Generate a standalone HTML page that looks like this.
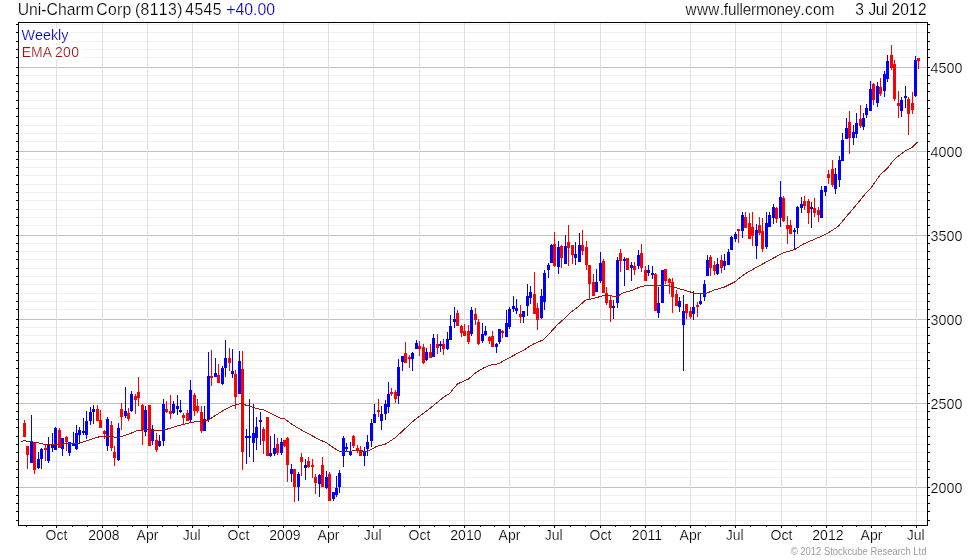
<!DOCTYPE html>
<html><head><meta charset="utf-8"><title>Uni-Charm Corp (8113) Weekly</title>
<style>html,body{margin:0;padding:0;background:#fff}body{width:980px;height:560px;overflow:hidden}svg{display:block}text{font-family:"Liberation Sans",sans-serif;stroke:#fff;stroke-width:.2px}</style></head><body>
<svg width="980" height="560" viewBox="0 0 980 560" style="will-change:transform">
<rect width="980" height="560" fill="#fff"/>
<g shape-rendering="crispEdges">
<g fill="#f0f0f0">
<rect x="19" y="520" width="908" height="1"/>
<rect x="19" y="511" width="908" height="1"/>
<rect x="19" y="503" width="908" height="1"/>
<rect x="19" y="495" width="908" height="1"/>
<rect x="19" y="477" width="908" height="1"/>
<rect x="19" y="469" width="908" height="1"/>
<rect x="19" y="461" width="908" height="1"/>
<rect x="19" y="452" width="908" height="1"/>
<rect x="19" y="444" width="908" height="1"/>
<rect x="19" y="436" width="908" height="1"/>
<rect x="19" y="427" width="908" height="1"/>
<rect x="19" y="419" width="908" height="1"/>
<rect x="19" y="411" width="908" height="1"/>
<rect x="19" y="393" width="908" height="1"/>
<rect x="19" y="385" width="908" height="1"/>
<rect x="19" y="377" width="908" height="1"/>
<rect x="19" y="368" width="908" height="1"/>
<rect x="19" y="360" width="908" height="1"/>
<rect x="19" y="352" width="908" height="1"/>
<rect x="19" y="343" width="908" height="1"/>
<rect x="19" y="335" width="908" height="1"/>
<rect x="19" y="327" width="908" height="1"/>
<rect x="19" y="309" width="908" height="1"/>
<rect x="19" y="301" width="908" height="1"/>
<rect x="19" y="293" width="908" height="1"/>
<rect x="19" y="284" width="908" height="1"/>
<rect x="19" y="276" width="908" height="1"/>
<rect x="19" y="268" width="908" height="1"/>
<rect x="19" y="259" width="908" height="1"/>
<rect x="19" y="251" width="908" height="1"/>
<rect x="19" y="243" width="908" height="1"/>
<rect x="19" y="225" width="908" height="1"/>
<rect x="19" y="217" width="908" height="1"/>
<rect x="19" y="209" width="908" height="1"/>
<rect x="19" y="200" width="908" height="1"/>
<rect x="19" y="192" width="908" height="1"/>
<rect x="19" y="184" width="908" height="1"/>
<rect x="19" y="175" width="908" height="1"/>
<rect x="19" y="167" width="908" height="1"/>
<rect x="19" y="159" width="908" height="1"/>
<rect x="19" y="141" width="908" height="1"/>
<rect x="19" y="133" width="908" height="1"/>
<rect x="19" y="125" width="908" height="1"/>
<rect x="19" y="116" width="908" height="1"/>
<rect x="19" y="108" width="908" height="1"/>
<rect x="19" y="100" width="908" height="1"/>
<rect x="19" y="91" width="908" height="1"/>
<rect x="19" y="83" width="908" height="1"/>
<rect x="19" y="75" width="908" height="1"/>
<rect x="19" y="57" width="908" height="1"/>
<rect x="19" y="49" width="908" height="1"/>
<rect x="19" y="41" width="908" height="1"/>
<rect x="19" y="32" width="908" height="1"/>
<rect x="19" y="24" width="908" height="1"/>
</g>
<g fill="#c0c0c0">
<rect x="19" y="67" width="908" height="1"/>
<rect x="19" y="151" width="908" height="1"/>
<rect x="19" y="235" width="908" height="1"/>
<rect x="19" y="319" width="908" height="1"/>
<rect x="19" y="403" width="908" height="1"/>
<rect x="19" y="487" width="908" height="1"/>
</g>
<g fill="#e0e0e0">
<rect x="56" y="23" width="1" height="502"/>
<rect x="102" y="23" width="1" height="502"/>
<rect x="147" y="23" width="1" height="502"/>
<rect x="192" y="23" width="1" height="502"/>
<rect x="238" y="23" width="1" height="502"/>
<rect x="283" y="23" width="1" height="502"/>
<rect x="328" y="23" width="1" height="502"/>
<rect x="373" y="23" width="1" height="502"/>
<rect x="419" y="23" width="1" height="502"/>
<rect x="464" y="23" width="1" height="502"/>
<rect x="509" y="23" width="1" height="502"/>
<rect x="554" y="23" width="1" height="502"/>
<rect x="600" y="23" width="1" height="502"/>
<rect x="645" y="23" width="1" height="502"/>
<rect x="690" y="23" width="1" height="502"/>
<rect x="735" y="23" width="1" height="502"/>
<rect x="781" y="23" width="1" height="502"/>
<rect x="826" y="23" width="1" height="502"/>
<rect x="871" y="23" width="1" height="502"/>
<rect x="916" y="23" width="1" height="502"/>
</g>
</g>
<g shape-rendering="crispEdges">
<g fill="#ff0000"><rect x="24" y="420" width="1" height="17"/><rect x="23" y="423" width="3" height="14"/></g>
<g fill="#ff0000"><rect x="27" y="446" width="1" height="23"/><rect x="26" y="446" width="3" height="9"/></g>
<g fill="#0000ff"><rect x="31" y="415" width="1" height="48"/><rect x="30" y="441" width="3" height="22"/></g>
<g fill="#ff0000"><rect x="34" y="442" width="1" height="32"/><rect x="33" y="442" width="3" height="28"/></g>
<g fill="#0000ff"><rect x="38" y="452" width="1" height="17"/><rect x="37" y="459" width="3" height="9"/></g>
<g fill="#0000ff"><rect x="41" y="448" width="1" height="21"/><rect x="40" y="449" width="3" height="10"/></g>
<g fill="#ff0000"><rect x="45" y="445" width="1" height="16"/><rect x="44" y="448" width="3" height="2"/></g>
<g fill="#0000ff"><rect x="48" y="437" width="1" height="26"/><rect x="47" y="445" width="3" height="16"/></g>
<g fill="#0000ff"><rect x="52" y="433" width="1" height="19"/><rect x="51" y="444" width="3" height="4"/></g>
<g fill="#0000ff"><rect x="55" y="427" width="1" height="23"/><rect x="54" y="428" width="3" height="22"/></g>
<g fill="#ff0000"><rect x="59" y="428" width="1" height="20"/><rect x="58" y="430" width="3" height="18"/></g>
<g fill="#0000ff"><rect x="62" y="438" width="1" height="18"/><rect x="61" y="438" width="3" height="11"/></g>
<g fill="#ff0000"><rect x="66" y="436" width="1" height="15"/><rect x="65" y="437" width="3" height="5"/></g>
<g fill="#0000ff"><rect x="69" y="442" width="1" height="14"/><rect x="68" y="442" width="3" height="11"/></g>
<g fill="#0000ff"><rect x="73" y="432" width="1" height="14"/><rect x="72" y="444" width="3" height="2"/></g>
<g fill="#0000ff"><rect x="76" y="425" width="1" height="25"/><rect x="75" y="433" width="3" height="16"/></g>
<g fill="#0000ff"><rect x="79" y="427" width="1" height="17"/><rect x="78" y="430" width="3" height="5"/></g>
<g fill="#0000ff"><rect x="83" y="418" width="1" height="17"/><rect x="82" y="431" width="3" height="2"/></g>
<g fill="#0000ff"><rect x="86" y="411" width="1" height="28"/><rect x="85" y="421" width="3" height="14"/></g>
<g fill="#0000ff"><rect x="90" y="407" width="1" height="18"/><rect x="89" y="412" width="3" height="9"/></g>
<g fill="#0000ff"><rect x="93" y="405" width="1" height="19"/><rect x="92" y="409" width="3" height="3"/></g>
<g fill="#ff0000"><rect x="97" y="405" width="1" height="16"/><rect x="96" y="409" width="3" height="12"/></g>
<g fill="#ff0000"><rect x="100" y="410" width="1" height="18"/><rect x="99" y="420" width="3" height="8"/></g>
<g fill="#ff0000"><rect x="104" y="430" width="1" height="9"/><rect x="103" y="431" width="3" height="3"/></g>
<g fill="#0000ff"><rect x="107" y="417" width="1" height="34"/><rect x="106" y="419" width="3" height="27"/></g>
<g fill="#ff0000"><rect x="111" y="421" width="1" height="30"/><rect x="110" y="425" width="3" height="23"/></g>
<g fill="#ff0000"><rect x="114" y="446" width="1" height="20"/><rect x="113" y="452" width="3" height="6"/></g>
<g fill="#0000ff"><rect x="118" y="423" width="1" height="38"/><rect x="117" y="428" width="3" height="32"/></g>
<g fill="#ff0000"><rect x="121" y="403" width="1" height="27"/><rect x="120" y="409" width="3" height="8"/></g>
<g fill="#0000ff"><rect x="125" y="387" width="1" height="31"/><rect x="124" y="411" width="3" height="5"/></g>
<g fill="#ff0000"><rect x="128" y="408" width="1" height="13"/><rect x="127" y="413" width="3" height="6"/></g>
<g fill="#0000ff"><rect x="131" y="391" width="1" height="21"/><rect x="130" y="394" width="3" height="17"/></g>
<g fill="#ff0000"><rect x="135" y="394" width="1" height="20"/><rect x="134" y="396" width="3" height="4"/></g>
<g fill="#ff0000"><rect x="138" y="377" width="1" height="29"/><rect x="137" y="392" width="3" height="6"/></g>
<g fill="#ff0000"><rect x="142" y="404" width="1" height="41"/><rect x="141" y="405" width="3" height="25"/></g>
<g fill="#0000ff"><rect x="145" y="406" width="1" height="30"/><rect x="144" y="410" width="3" height="22"/></g>
<g fill="#ff0000"><rect x="149" y="405" width="1" height="41"/><rect x="148" y="405" width="3" height="41"/></g>
<g fill="#0000ff"><rect x="152" y="425" width="1" height="20"/><rect x="151" y="429" width="3" height="12"/></g>
<g fill="#ff0000"><rect x="156" y="433" width="1" height="19"/><rect x="155" y="440" width="3" height="10"/></g>
<g fill="#0000ff"><rect x="159" y="435" width="1" height="12"/><rect x="158" y="441" width="3" height="5"/></g>
<g fill="#0000ff"><rect x="163" y="399" width="1" height="47"/><rect x="162" y="404" width="3" height="37"/></g>
<g fill="#ff0000"><rect x="166" y="401" width="1" height="12"/><rect x="165" y="409" width="3" height="3"/></g>
<g fill="#ff0000"><rect x="170" y="395" width="1" height="24"/><rect x="169" y="411" width="3" height="3"/></g>
<g fill="#0000ff"><rect x="173" y="401" width="1" height="13"/><rect x="172" y="404" width="3" height="9"/></g>
<g fill="#0000ff"><rect x="177" y="395" width="1" height="20"/><rect x="176" y="406" width="3" height="3"/></g>
<g fill="#0000ff"><rect x="180" y="400" width="1" height="13"/><rect x="179" y="410" width="3" height="2"/></g>
<g fill="#ff0000"><rect x="183" y="413" width="1" height="12"/><rect x="182" y="415" width="3" height="3"/></g>
<g fill="#ff0000"><rect x="187" y="410" width="1" height="11"/><rect x="186" y="413" width="3" height="8"/></g>
<g fill="#0000ff"><rect x="190" y="380" width="1" height="42"/><rect x="189" y="390" width="3" height="30"/></g>
<g fill="#ff0000"><rect x="194" y="393" width="1" height="23"/><rect x="193" y="395" width="3" height="16"/></g>
<g fill="#ff0000"><rect x="197" y="399" width="1" height="14"/><rect x="196" y="406" width="3" height="5"/></g>
<g fill="#ff0000"><rect x="201" y="406" width="1" height="27"/><rect x="200" y="412" width="3" height="19"/></g>
<g fill="#0000ff"><rect x="204" y="406" width="1" height="25"/><rect x="203" y="419" width="3" height="12"/></g>
<g fill="#0000ff"><rect x="208" y="352" width="1" height="70"/><rect x="207" y="376" width="3" height="44"/></g>
<g fill="#ff0000"><rect x="211" y="350" width="1" height="36"/><rect x="210" y="376" width="3" height="2"/></g>
<g fill="#0000ff"><rect x="215" y="358" width="1" height="19"/><rect x="214" y="373" width="3" height="4"/></g>
<g fill="#ff0000"><rect x="218" y="364" width="1" height="19"/><rect x="217" y="375" width="3" height="8"/></g>
<g fill="#0000ff"><rect x="222" y="366" width="1" height="19"/><rect x="221" y="368" width="3" height="16"/></g>
<g fill="#0000ff"><rect x="225" y="340" width="1" height="37"/><rect x="224" y="358" width="3" height="10"/></g>
<g fill="#ff0000"><rect x="229" y="348" width="1" height="23"/><rect x="228" y="358" width="3" height="5"/></g>
<g fill="#0000ff"><rect x="232" y="349" width="1" height="29"/><rect x="231" y="371" width="3" height="3"/></g>
<g fill="#ff0000"><rect x="235" y="370" width="1" height="39"/><rect x="234" y="374" width="3" height="23"/></g>
<g fill="#0000ff"><rect x="239" y="351" width="1" height="43"/><rect x="238" y="361" width="3" height="33"/></g>
<g fill="#ff0000"><rect x="242" y="351" width="1" height="119"/><rect x="241" y="369" width="3" height="83"/></g>
<g fill="#0000ff"><rect x="246" y="429" width="1" height="35"/><rect x="245" y="436" width="3" height="2"/></g>
<g fill="#0000ff"><rect x="249" y="399" width="1" height="58"/><rect x="248" y="436" width="3" height="2"/></g>
<g fill="#0000ff"><rect x="253" y="404" width="1" height="58"/><rect x="252" y="433" width="3" height="10"/></g>
<g fill="#0000ff"><rect x="256" y="417" width="1" height="33"/><rect x="255" y="427" width="3" height="11"/></g>
<g fill="#0000ff"><rect x="260" y="412" width="1" height="33"/><rect x="259" y="420" width="3" height="2"/></g>
<g fill="#ff0000"><rect x="263" y="427" width="1" height="27"/><rect x="262" y="429" width="3" height="12"/></g>
<g fill="#ff0000"><rect x="267" y="417" width="1" height="39"/><rect x="266" y="417" width="3" height="39"/></g>
<g fill="#0000ff"><rect x="270" y="436" width="1" height="21"/><rect x="269" y="453" width="3" height="3"/></g>
<g fill="#0000ff"><rect x="274" y="434" width="1" height="22"/><rect x="273" y="448" width="3" height="6"/></g>
<g fill="#ff0000"><rect x="277" y="438" width="1" height="17"/><rect x="276" y="444" width="3" height="9"/></g>
<g fill="#0000ff"><rect x="281" y="438" width="1" height="17"/><rect x="280" y="442" width="3" height="11"/></g>
<g fill="#ff0000"><rect x="284" y="440" width="1" height="7"/><rect x="283" y="440" width="3" height="6"/></g>
<g fill="#ff0000"><rect x="287" y="437" width="1" height="45"/><rect x="286" y="438" width="3" height="27"/></g>
<g fill="#0000ff"><rect x="291" y="464" width="1" height="18"/><rect x="290" y="469" width="3" height="5"/></g>
<g fill="#ff0000"><rect x="294" y="469" width="1" height="33"/><rect x="293" y="469" width="3" height="18"/></g>
<g fill="#0000ff"><rect x="298" y="472" width="1" height="29"/><rect x="297" y="474" width="3" height="13"/></g>
<g fill="#ff0000"><rect x="301" y="453" width="1" height="23"/><rect x="300" y="457" width="3" height="5"/></g>
<g fill="#0000ff"><rect x="305" y="459" width="1" height="21"/><rect x="304" y="465" width="3" height="3"/></g>
<g fill="#ff0000"><rect x="308" y="457" width="1" height="11"/><rect x="307" y="461" width="3" height="6"/></g>
<g fill="#ff0000"><rect x="312" y="459" width="1" height="19"/><rect x="311" y="465" width="3" height="2"/></g>
<g fill="#ff0000"><rect x="315" y="474" width="1" height="20"/><rect x="314" y="477" width="3" height="6"/></g>
<g fill="#0000ff"><rect x="319" y="474" width="1" height="23"/><rect x="318" y="475" width="3" height="9"/></g>
<g fill="#ff0000"><rect x="322" y="457" width="1" height="30"/><rect x="321" y="465" width="3" height="22"/></g>
<g fill="#0000ff"><rect x="326" y="471" width="1" height="18"/><rect x="325" y="477" width="3" height="11"/></g>
<g fill="#ff0000"><rect x="329" y="472" width="1" height="29"/><rect x="328" y="474" width="3" height="27"/></g>
<g fill="#0000ff"><rect x="333" y="492" width="1" height="9"/><rect x="332" y="492" width="3" height="7"/></g>
<g fill="#0000ff"><rect x="336" y="476" width="1" height="21"/><rect x="335" y="488" width="3" height="7"/></g>
<g fill="#0000ff"><rect x="339" y="470" width="1" height="23"/><rect x="338" y="473" width="3" height="14"/></g>
<g fill="#0000ff"><rect x="343" y="436" width="1" height="31"/><rect x="342" y="438" width="3" height="18"/></g>
<g fill="#0000ff"><rect x="346" y="443" width="1" height="8"/><rect x="345" y="447" width="3" height="2"/></g>
<g fill="#0000ff"><rect x="350" y="442" width="1" height="14"/><rect x="349" y="451" width="3" height="4"/></g>
<g fill="#ff0000"><rect x="353" y="435" width="1" height="13"/><rect x="352" y="436" width="3" height="10"/></g>
<g fill="#ff0000"><rect x="357" y="445" width="1" height="8"/><rect x="356" y="448" width="3" height="3"/></g>
<g fill="#ff0000"><rect x="360" y="446" width="1" height="10"/><rect x="359" y="450" width="3" height="6"/></g>
<g fill="#0000ff"><rect x="364" y="447" width="1" height="19"/><rect x="363" y="451" width="3" height="5"/></g>
<g fill="#0000ff"><rect x="367" y="435" width="1" height="21"/><rect x="366" y="442" width="3" height="7"/></g>
<g fill="#0000ff"><rect x="371" y="419" width="1" height="28"/><rect x="370" y="423" width="3" height="18"/></g>
<g fill="#0000ff"><rect x="374" y="404" width="1" height="19"/><rect x="373" y="414" width="3" height="9"/></g>
<g fill="#ff0000"><rect x="378" y="399" width="1" height="18"/><rect x="377" y="410" width="3" height="2"/></g>
<g fill="#0000ff"><rect x="381" y="406" width="1" height="24"/><rect x="380" y="414" width="3" height="7"/></g>
<g fill="#0000ff"><rect x="385" y="400" width="1" height="20"/><rect x="384" y="404" width="3" height="10"/></g>
<g fill="#0000ff"><rect x="388" y="382" width="1" height="31"/><rect x="387" y="394" width="3" height="13"/></g>
<g fill="#ff0000"><rect x="391" y="388" width="1" height="8"/><rect x="390" y="392" width="3" height="2"/></g>
<g fill="#ff0000"><rect x="395" y="390" width="1" height="13"/><rect x="394" y="392" width="3" height="7"/></g>
<g fill="#0000ff"><rect x="398" y="359" width="1" height="45"/><rect x="397" y="367" width="3" height="29"/></g>
<g fill="#0000ff"><rect x="402" y="356" width="1" height="15"/><rect x="401" y="356" width="3" height="6"/></g>
<g fill="#ff0000"><rect x="405" y="342" width="1" height="21"/><rect x="404" y="353" width="3" height="10"/></g>
<g fill="#ff0000"><rect x="409" y="355" width="1" height="13"/><rect x="408" y="357" width="3" height="2"/></g>
<g fill="#0000ff"><rect x="412" y="352" width="1" height="19"/><rect x="411" y="353" width="3" height="6"/></g>
<g fill="#0000ff"><rect x="416" y="340" width="1" height="9"/><rect x="415" y="343" width="3" height="6"/></g>
<g fill="#ff0000"><rect x="419" y="341" width="1" height="15"/><rect x="418" y="346" width="3" height="3"/></g>
<g fill="#ff0000"><rect x="423" y="344" width="1" height="20"/><rect x="422" y="347" width="3" height="16"/></g>
<g fill="#0000ff"><rect x="426" y="348" width="1" height="13"/><rect x="425" y="352" width="3" height="8"/></g>
<g fill="#ff0000"><rect x="430" y="344" width="1" height="14"/><rect x="429" y="352" width="3" height="6"/></g>
<g fill="#0000ff"><rect x="433" y="334" width="1" height="23"/><rect x="432" y="338" width="3" height="19"/></g>
<g fill="#ff0000"><rect x="437" y="334" width="1" height="20"/><rect x="436" y="344" width="3" height="4"/></g>
<g fill="#0000ff"><rect x="440" y="341" width="1" height="11"/><rect x="439" y="344" width="3" height="2"/></g>
<g fill="#ff0000"><rect x="443" y="339" width="1" height="16"/><rect x="442" y="344" width="3" height="5"/></g>
<g fill="#0000ff"><rect x="447" y="332" width="1" height="18"/><rect x="446" y="339" width="3" height="10"/></g>
<g fill="#0000ff"><rect x="450" y="315" width="1" height="25"/><rect x="449" y="326" width="3" height="14"/></g>
<g fill="#0000ff"><rect x="454" y="307" width="1" height="21"/><rect x="453" y="319" width="3" height="3"/></g>
<g fill="#ff0000"><rect x="457" y="310" width="1" height="16"/><rect x="456" y="313" width="3" height="13"/></g>
<g fill="#ff0000"><rect x="461" y="325" width="1" height="12"/><rect x="460" y="326" width="3" height="7"/></g>
<g fill="#ff0000"><rect x="464" y="324" width="1" height="12"/><rect x="463" y="331" width="3" height="5"/></g>
<g fill="#ff0000"><rect x="468" y="325" width="1" height="19"/><rect x="467" y="331" width="3" height="11"/></g>
<g fill="#0000ff"><rect x="471" y="307" width="1" height="29"/><rect x="470" y="310" width="3" height="24"/></g>
<g fill="#ff0000"><rect x="475" y="308" width="1" height="17"/><rect x="474" y="314" width="3" height="6"/></g>
<g fill="#ff0000"><rect x="478" y="319" width="1" height="26"/><rect x="477" y="322" width="3" height="22"/></g>
<g fill="#0000ff"><rect x="482" y="323" width="1" height="20"/><rect x="481" y="334" width="3" height="7"/></g>
<g fill="#0000ff"><rect x="485" y="326" width="1" height="10"/><rect x="484" y="331" width="3" height="4"/></g>
<g fill="#ff0000"><rect x="489" y="336" width="1" height="8"/><rect x="488" y="337" width="3" height="4"/></g>
<g fill="#ff0000"><rect x="492" y="331" width="1" height="16"/><rect x="491" y="336" width="3" height="11"/></g>
<g fill="#0000ff"><rect x="496" y="343" width="1" height="10"/><rect x="495" y="344" width="3" height="3"/></g>
<g fill="#0000ff"><rect x="499" y="329" width="1" height="15"/><rect x="498" y="329" width="3" height="13"/></g>
<g fill="#ff0000"><rect x="502" y="330" width="1" height="8"/><rect x="501" y="331" width="3" height="2"/></g>
<g fill="#0000ff"><rect x="506" y="310" width="1" height="27"/><rect x="505" y="323" width="3" height="14"/></g>
<g fill="#0000ff"><rect x="509" y="307" width="1" height="22"/><rect x="508" y="309" width="3" height="18"/></g>
<g fill="#0000ff"><rect x="513" y="296" width="1" height="16"/><rect x="512" y="306" width="3" height="3"/></g>
<g fill="#0000ff"><rect x="516" y="299" width="1" height="15"/><rect x="515" y="308" width="3" height="3"/></g>
<g fill="#ff0000"><rect x="520" y="305" width="1" height="18"/><rect x="519" y="314" width="3" height="3"/></g>
<g fill="#0000ff"><rect x="523" y="311" width="1" height="12"/><rect x="522" y="311" width="3" height="6"/></g>
<g fill="#0000ff"><rect x="527" y="284" width="1" height="32"/><rect x="526" y="296" width="3" height="10"/></g>
<g fill="#0000ff"><rect x="530" y="286" width="1" height="18"/><rect x="529" y="292" width="3" height="6"/></g>
<g fill="#ff0000"><rect x="534" y="272" width="1" height="42"/><rect x="533" y="294" width="3" height="20"/></g>
<g fill="#ff0000"><rect x="537" y="303" width="1" height="27"/><rect x="536" y="308" width="3" height="12"/></g>
<g fill="#0000ff"><rect x="541" y="289" width="1" height="30"/><rect x="540" y="296" width="3" height="22"/></g>
<g fill="#0000ff"><rect x="544" y="270" width="1" height="40"/><rect x="543" y="273" width="3" height="29"/></g>
<g fill="#0000ff"><rect x="548" y="263" width="1" height="15"/><rect x="547" y="265" width="3" height="5"/></g>
<g fill="#0000ff"><rect x="551" y="244" width="1" height="19"/><rect x="550" y="245" width="3" height="18"/></g>
<g fill="#ff0000"><rect x="554" y="232" width="1" height="35"/><rect x="553" y="244" width="3" height="22"/></g>
<g fill="#0000ff"><rect x="558" y="241" width="1" height="33"/><rect x="557" y="247" width="3" height="20"/></g>
<g fill="#ff0000"><rect x="561" y="245" width="1" height="23"/><rect x="560" y="246" width="3" height="12"/></g>
<g fill="#0000ff"><rect x="565" y="235" width="1" height="29"/><rect x="564" y="246" width="3" height="18"/></g>
<g fill="#ff0000"><rect x="568" y="225" width="1" height="41"/><rect x="567" y="242" width="3" height="6"/></g>
<g fill="#ff0000"><rect x="572" y="245" width="1" height="19"/><rect x="571" y="245" width="3" height="10"/></g>
<g fill="#0000ff"><rect x="575" y="242" width="1" height="23"/><rect x="574" y="254" width="3" height="4"/></g>
<g fill="#0000ff"><rect x="579" y="233" width="1" height="29"/><rect x="578" y="245" width="3" height="17"/></g>
<g fill="#ff0000"><rect x="582" y="230" width="1" height="25"/><rect x="581" y="245" width="3" height="6"/></g>
<g fill="#ff0000"><rect x="586" y="241" width="1" height="29"/><rect x="585" y="247" width="3" height="18"/></g>
<g fill="#ff0000"><rect x="589" y="265" width="1" height="34"/><rect x="588" y="265" width="3" height="19"/></g>
<g fill="#ff0000"><rect x="593" y="274" width="1" height="22"/><rect x="592" y="282" width="3" height="14"/></g>
<g fill="#0000ff"><rect x="596" y="269" width="1" height="23"/><rect x="595" y="282" width="3" height="10"/></g>
<g fill="#0000ff"><rect x="600" y="252" width="1" height="31"/><rect x="599" y="263" width="3" height="18"/></g>
<g fill="#ff0000"><rect x="603" y="259" width="1" height="34"/><rect x="602" y="261" width="3" height="32"/></g>
<g fill="#ff0000"><rect x="606" y="287" width="1" height="18"/><rect x="605" y="293" width="3" height="10"/></g>
<g fill="#ff0000"><rect x="610" y="296" width="1" height="26"/><rect x="609" y="300" width="3" height="8"/></g>
<g fill="#0000ff"><rect x="613" y="300" width="1" height="19"/><rect x="612" y="306" width="3" height="2"/></g>
<g fill="#0000ff"><rect x="617" y="257" width="1" height="51"/><rect x="616" y="260" width="3" height="43"/></g>
<g fill="#ff0000"><rect x="620" y="249" width="1" height="23"/><rect x="619" y="253" width="3" height="8"/></g>
<g fill="#0000ff"><rect x="624" y="257" width="1" height="29"/><rect x="623" y="259" width="3" height="2"/></g>
<g fill="#ff0000"><rect x="627" y="258" width="1" height="12"/><rect x="626" y="258" width="3" height="12"/></g>
<g fill="#0000ff"><rect x="631" y="262" width="1" height="19"/><rect x="630" y="265" width="3" height="3"/></g>
<g fill="#ff0000"><rect x="634" y="262" width="1" height="13"/><rect x="633" y="266" width="3" height="4"/></g>
<g fill="#0000ff"><rect x="638" y="250" width="1" height="19"/><rect x="637" y="255" width="3" height="11"/></g>
<g fill="#ff0000"><rect x="641" y="244" width="1" height="28"/><rect x="640" y="253" width="3" height="15"/></g>
<g fill="#ff0000"><rect x="645" y="266" width="1" height="15"/><rect x="644" y="270" width="3" height="11"/></g>
<g fill="#0000ff"><rect x="648" y="265" width="1" height="11"/><rect x="647" y="270" width="3" height="3"/></g>
<g fill="#0000ff"><rect x="652" y="266" width="1" height="13"/><rect x="651" y="273" width="3" height="2"/></g>
<g fill="#ff0000"><rect x="655" y="273" width="1" height="38"/><rect x="654" y="274" width="3" height="37"/></g>
<g fill="#0000ff"><rect x="658" y="287" width="1" height="31"/><rect x="657" y="303" width="3" height="10"/></g>
<g fill="#0000ff"><rect x="662" y="270" width="1" height="33"/><rect x="661" y="270" width="3" height="33"/></g>
<g fill="#ff0000"><rect x="665" y="269" width="1" height="15"/><rect x="664" y="269" width="3" height="12"/></g>
<g fill="#ff0000"><rect x="669" y="278" width="1" height="16"/><rect x="668" y="279" width="3" height="4"/></g>
<g fill="#ff0000"><rect x="672" y="278" width="1" height="35"/><rect x="671" y="282" width="3" height="15"/></g>
<g fill="#ff0000"><rect x="676" y="290" width="1" height="16"/><rect x="675" y="294" width="3" height="12"/></g>
<g fill="#0000ff"><rect x="679" y="297" width="1" height="15"/><rect x="678" y="301" width="3" height="6"/></g>
<g fill="#0000ff"><rect x="683" y="295" width="1" height="76"/><rect x="682" y="311" width="3" height="14"/></g>
<g fill="#ff0000"><rect x="686" y="304" width="1" height="15"/><rect x="685" y="304" width="3" height="9"/></g>
<g fill="#ff0000"><rect x="690" y="307" width="1" height="12"/><rect x="689" y="311" width="3" height="6"/></g>
<g fill="#0000ff"><rect x="693" y="291" width="1" height="29"/><rect x="692" y="307" width="3" height="7"/></g>
<g fill="#ff0000"><rect x="697" y="302" width="1" height="15"/><rect x="696" y="305" width="3" height="2"/></g>
<g fill="#0000ff"><rect x="700" y="294" width="1" height="11"/><rect x="699" y="301" width="3" height="3"/></g>
<g fill="#0000ff"><rect x="704" y="280" width="1" height="21"/><rect x="703" y="284" width="3" height="13"/></g>
<g fill="#0000ff"><rect x="707" y="255" width="1" height="21"/><rect x="706" y="260" width="3" height="16"/></g>
<g fill="#ff0000"><rect x="710" y="255" width="1" height="21"/><rect x="709" y="257" width="3" height="11"/></g>
<g fill="#ff0000"><rect x="714" y="261" width="1" height="14"/><rect x="713" y="265" width="3" height="6"/></g>
<g fill="#0000ff"><rect x="717" y="258" width="1" height="17"/><rect x="716" y="264" width="3" height="10"/></g>
<g fill="#ff0000"><rect x="721" y="255" width="1" height="18"/><rect x="720" y="260" width="3" height="8"/></g>
<g fill="#0000ff"><rect x="724" y="254" width="1" height="16"/><rect x="723" y="261" width="3" height="5"/></g>
<g fill="#0000ff"><rect x="728" y="249" width="1" height="16"/><rect x="727" y="252" width="3" height="13"/></g>
<g fill="#0000ff"><rect x="731" y="236" width="1" height="14"/><rect x="730" y="237" width="3" height="13"/></g>
<g fill="#0000ff"><rect x="735" y="232" width="1" height="10"/><rect x="734" y="234" width="3" height="5"/></g>
<g fill="#ff0000"><rect x="738" y="229" width="1" height="14"/><rect x="737" y="229" width="3" height="2"/></g>
<g fill="#0000ff"><rect x="742" y="212" width="1" height="26"/><rect x="741" y="215" width="3" height="16"/></g>
<g fill="#ff0000"><rect x="745" y="212" width="1" height="16"/><rect x="744" y="217" width="3" height="11"/></g>
<g fill="#ff0000"><rect x="749" y="213" width="1" height="26"/><rect x="748" y="223" width="3" height="16"/></g>
<g fill="#ff0000"><rect x="752" y="212" width="1" height="34"/><rect x="751" y="227" width="3" height="9"/></g>
<g fill="#0000ff"><rect x="756" y="224" width="1" height="35"/><rect x="755" y="230" width="3" height="16"/></g>
<g fill="#ff0000"><rect x="759" y="217" width="1" height="18"/><rect x="758" y="225" width="3" height="8"/></g>
<g fill="#ff0000"><rect x="762" y="218" width="1" height="34"/><rect x="761" y="231" width="3" height="18"/></g>
<g fill="#0000ff"><rect x="766" y="212" width="1" height="37"/><rect x="765" y="223" width="3" height="24"/></g>
<g fill="#0000ff"><rect x="769" y="212" width="1" height="15"/><rect x="768" y="215" width="3" height="12"/></g>
<g fill="#0000ff"><rect x="773" y="204" width="1" height="20"/><rect x="772" y="207" width="3" height="11"/></g>
<g fill="#ff0000"><rect x="776" y="207" width="1" height="16"/><rect x="775" y="208" width="3" height="11"/></g>
<g fill="#0000ff"><rect x="780" y="181" width="1" height="46"/><rect x="779" y="197" width="3" height="21"/></g>
<g fill="#ff0000"><rect x="783" y="196" width="1" height="26"/><rect x="782" y="198" width="3" height="23"/></g>
<g fill="#ff0000"><rect x="787" y="216" width="1" height="28"/><rect x="786" y="225" width="3" height="4"/></g>
<g fill="#ff0000"><rect x="790" y="220" width="1" height="14"/><rect x="789" y="225" width="3" height="9"/></g>
<g fill="#0000ff"><rect x="794" y="228" width="1" height="21"/><rect x="793" y="230" width="3" height="2"/></g>
<g fill="#0000ff"><rect x="797" y="206" width="1" height="28"/><rect x="796" y="207" width="3" height="21"/></g>
<g fill="#0000ff"><rect x="801" y="197" width="1" height="16"/><rect x="800" y="204" width="3" height="4"/></g>
<g fill="#ff0000"><rect x="804" y="196" width="1" height="14"/><rect x="803" y="201" width="3" height="5"/></g>
<g fill="#ff0000"><rect x="808" y="199" width="1" height="25"/><rect x="807" y="201" width="3" height="12"/></g>
<g fill="#0000ff"><rect x="811" y="202" width="1" height="26"/><rect x="810" y="207" width="3" height="2"/></g>
<g fill="#ff0000"><rect x="814" y="198" width="1" height="19"/><rect x="813" y="208" width="3" height="5"/></g>
<g fill="#ff0000"><rect x="818" y="207" width="1" height="15"/><rect x="817" y="210" width="3" height="5"/></g>
<g fill="#0000ff"><rect x="821" y="186" width="1" height="32"/><rect x="820" y="190" width="3" height="28"/></g>
<g fill="#0000ff"><rect x="825" y="186" width="1" height="10"/><rect x="824" y="186" width="3" height="6"/></g>
<g fill="#ff0000"><rect x="828" y="170" width="1" height="14"/><rect x="827" y="174" width="3" height="4"/></g>
<g fill="#ff0000"><rect x="832" y="160" width="1" height="27"/><rect x="831" y="169" width="3" height="16"/></g>
<g fill="#0000ff"><rect x="835" y="168" width="1" height="26"/><rect x="834" y="174" width="3" height="15"/></g>
<g fill="#0000ff"><rect x="839" y="156" width="1" height="31"/><rect x="838" y="160" width="3" height="20"/></g>
<g fill="#0000ff"><rect x="842" y="133" width="1" height="28"/><rect x="841" y="140" width="3" height="21"/></g>
<g fill="#0000ff"><rect x="846" y="118" width="1" height="21"/><rect x="845" y="128" width="3" height="11"/></g>
<g fill="#ff0000"><rect x="849" y="111" width="1" height="43"/><rect x="848" y="122" width="3" height="16"/></g>
<g fill="#0000ff"><rect x="853" y="125" width="1" height="20"/><rect x="852" y="132" width="3" height="6"/></g>
<g fill="#0000ff"><rect x="856" y="113" width="1" height="25"/><rect x="855" y="123" width="3" height="11"/></g>
<g fill="#ff0000"><rect x="860" y="105" width="1" height="23"/><rect x="859" y="119" width="3" height="7"/></g>
<g fill="#0000ff"><rect x="863" y="113" width="1" height="17"/><rect x="862" y="118" width="3" height="9"/></g>
<g fill="#0000ff"><rect x="866" y="104" width="1" height="14"/><rect x="865" y="108" width="3" height="7"/></g>
<g fill="#0000ff"><rect x="870" y="81" width="1" height="30"/><rect x="869" y="89" width="3" height="22"/></g>
<g fill="#ff0000"><rect x="873" y="83" width="1" height="22"/><rect x="872" y="84" width="3" height="16"/></g>
<g fill="#0000ff"><rect x="877" y="82" width="1" height="25"/><rect x="876" y="86" width="3" height="17"/></g>
<g fill="#ff0000"><rect x="880" y="78" width="1" height="18"/><rect x="879" y="87" width="3" height="7"/></g>
<g fill="#0000ff"><rect x="884" y="71" width="1" height="26"/><rect x="883" y="74" width="3" height="17"/></g>
<g fill="#0000ff"><rect x="887" y="55" width="1" height="27"/><rect x="886" y="61" width="3" height="18"/></g>
<g fill="#ff0000"><rect x="891" y="45" width="1" height="25"/><rect x="890" y="55" width="3" height="13"/></g>
<g fill="#ff0000"><rect x="894" y="60" width="1" height="41"/><rect x="893" y="64" width="3" height="35"/></g>
<g fill="#ff0000"><rect x="898" y="91" width="1" height="27"/><rect x="897" y="103" width="3" height="3"/></g>
<g fill="#0000ff"><rect x="901" y="97" width="1" height="20"/><rect x="900" y="100" width="3" height="11"/></g>
<g fill="#0000ff"><rect x="905" y="86" width="1" height="22"/><rect x="904" y="96" width="3" height="2"/></g>
<g fill="#ff0000"><rect x="908" y="97" width="1" height="38"/><rect x="907" y="99" width="3" height="15"/></g>
<g fill="#ff0000"><rect x="912" y="92" width="1" height="22"/><rect x="911" y="103" width="3" height="7"/></g>
<g fill="#0000ff"><rect x="915" y="56" width="1" height="41"/><rect x="914" y="60" width="3" height="36"/></g>
<g fill="#ff0000"><rect x="918" y="58" width="1" height="11"/><rect x="917" y="58" width="3" height="3"/></g>
</g>
<polyline fill="none" stroke="#a01414" stroke-width="1" shape-rendering="crispEdges" points="21.1,441.4 24.4,440.7 31.6,441.9 36.6,442.4 45.1,444.6 55.1,444.3 66.6,443.9 77.3,443.3 83.7,441.9 92.3,439.0 99.4,436.7 105.1,436.4 112.3,436.7 118.0,437.9 123.7,435.7 130.9,433.3 138.0,430.3 146.6,429.7 152.3,430.0 158.0,430.7 166.6,429.3 176.6,426.1 186.6,423.6 196.6,421.4 207.3,420.7 215.1,415.7 225.1,409.3 232.3,405.7 240.1,403.6 246.6,405.3 255.1,408.1 263.7,410.0 272.3,414.3 279.4,417.9 284.4,418.6 290.9,423.6 298.0,428.1 309.4,434.3 318.0,438.9 326.6,442.9 333.7,447.9 339.4,451.4 349.4,451.4 353.7,450.7 368.0,451.2 376.6,446.4 385.1,444.3 395.1,437.9 405.1,428.6 413.7,420.7 419.4,416.4 428.0,410.0 436.6,402.9 443.7,397.1 449.4,393.6 457.6,383.9 468.0,379.3 476.6,372.1 483.7,367.9 490.9,365.0 498.0,363.9 525.0,349.3 532.9,344.3 542.9,340.0 550.0,332.9 557.1,325.0 564.3,318.6 570.0,312.9 578.6,306.4 585.7,300.0 592.9,298.6 604.3,295.4 617.1,296.4 622.9,292.9 630.7,290.9 641.4,286.4 648.6,285.4 662.9,286.0 667.1,285.4 677.1,288.1 688.6,291.4 695.7,293.6 705.7,293.6 714.3,290.0 724.3,287.1 734.3,282.1 744.3,274.3 752.9,269.3 760.0,265.4 782.9,252.9 794.3,249.7 804.3,243.6 814.3,239.3 824.3,235.0 832.9,230.0 838.6,226.0 847.1,215.7 855.7,205.7 864.3,195.0 870.0,189.3 880.0,175.0 887.1,168.6 894.3,159.3 900.0,155.0 905.7,150.7 911.4,147.9 916.8,142.9 917.9,142.0"/>
<g shape-rendering="crispEdges" fill="#000">
<rect x="18" y="22" width="910" height="1"/>
<rect x="18" y="525" width="910" height="1"/>
<rect x="18" y="22" width="1" height="504"/>
<rect x="927" y="22" width="1" height="504"/>
<rect x="16" y="520" width="2" height="1"/><rect x="928" y="520" width="2" height="1"/>
<rect x="16" y="511" width="2" height="1"/><rect x="928" y="511" width="2" height="1"/>
<rect x="16" y="503" width="2" height="1"/><rect x="928" y="503" width="2" height="1"/>
<rect x="16" y="495" width="2" height="1"/><rect x="928" y="495" width="2" height="1"/>
<rect x="16" y="477" width="2" height="1"/><rect x="928" y="477" width="2" height="1"/>
<rect x="16" y="469" width="2" height="1"/><rect x="928" y="469" width="2" height="1"/>
<rect x="16" y="461" width="2" height="1"/><rect x="928" y="461" width="2" height="1"/>
<rect x="16" y="452" width="2" height="1"/><rect x="928" y="452" width="2" height="1"/>
<rect x="16" y="444" width="2" height="1"/><rect x="928" y="444" width="2" height="1"/>
<rect x="16" y="436" width="2" height="1"/><rect x="928" y="436" width="2" height="1"/>
<rect x="16" y="427" width="2" height="1"/><rect x="928" y="427" width="2" height="1"/>
<rect x="16" y="419" width="2" height="1"/><rect x="928" y="419" width="2" height="1"/>
<rect x="16" y="411" width="2" height="1"/><rect x="928" y="411" width="2" height="1"/>
<rect x="16" y="393" width="2" height="1"/><rect x="928" y="393" width="2" height="1"/>
<rect x="16" y="385" width="2" height="1"/><rect x="928" y="385" width="2" height="1"/>
<rect x="16" y="377" width="2" height="1"/><rect x="928" y="377" width="2" height="1"/>
<rect x="16" y="368" width="2" height="1"/><rect x="928" y="368" width="2" height="1"/>
<rect x="16" y="360" width="2" height="1"/><rect x="928" y="360" width="2" height="1"/>
<rect x="16" y="352" width="2" height="1"/><rect x="928" y="352" width="2" height="1"/>
<rect x="16" y="343" width="2" height="1"/><rect x="928" y="343" width="2" height="1"/>
<rect x="16" y="335" width="2" height="1"/><rect x="928" y="335" width="2" height="1"/>
<rect x="16" y="327" width="2" height="1"/><rect x="928" y="327" width="2" height="1"/>
<rect x="16" y="309" width="2" height="1"/><rect x="928" y="309" width="2" height="1"/>
<rect x="16" y="301" width="2" height="1"/><rect x="928" y="301" width="2" height="1"/>
<rect x="16" y="293" width="2" height="1"/><rect x="928" y="293" width="2" height="1"/>
<rect x="16" y="284" width="2" height="1"/><rect x="928" y="284" width="2" height="1"/>
<rect x="16" y="276" width="2" height="1"/><rect x="928" y="276" width="2" height="1"/>
<rect x="16" y="268" width="2" height="1"/><rect x="928" y="268" width="2" height="1"/>
<rect x="16" y="259" width="2" height="1"/><rect x="928" y="259" width="2" height="1"/>
<rect x="16" y="251" width="2" height="1"/><rect x="928" y="251" width="2" height="1"/>
<rect x="16" y="243" width="2" height="1"/><rect x="928" y="243" width="2" height="1"/>
<rect x="16" y="225" width="2" height="1"/><rect x="928" y="225" width="2" height="1"/>
<rect x="16" y="217" width="2" height="1"/><rect x="928" y="217" width="2" height="1"/>
<rect x="16" y="209" width="2" height="1"/><rect x="928" y="209" width="2" height="1"/>
<rect x="16" y="200" width="2" height="1"/><rect x="928" y="200" width="2" height="1"/>
<rect x="16" y="192" width="2" height="1"/><rect x="928" y="192" width="2" height="1"/>
<rect x="16" y="184" width="2" height="1"/><rect x="928" y="184" width="2" height="1"/>
<rect x="16" y="175" width="2" height="1"/><rect x="928" y="175" width="2" height="1"/>
<rect x="16" y="167" width="2" height="1"/><rect x="928" y="167" width="2" height="1"/>
<rect x="16" y="159" width="2" height="1"/><rect x="928" y="159" width="2" height="1"/>
<rect x="16" y="141" width="2" height="1"/><rect x="928" y="141" width="2" height="1"/>
<rect x="16" y="133" width="2" height="1"/><rect x="928" y="133" width="2" height="1"/>
<rect x="16" y="125" width="2" height="1"/><rect x="928" y="125" width="2" height="1"/>
<rect x="16" y="116" width="2" height="1"/><rect x="928" y="116" width="2" height="1"/>
<rect x="16" y="108" width="2" height="1"/><rect x="928" y="108" width="2" height="1"/>
<rect x="16" y="100" width="2" height="1"/><rect x="928" y="100" width="2" height="1"/>
<rect x="16" y="91" width="2" height="1"/><rect x="928" y="91" width="2" height="1"/>
<rect x="16" y="83" width="2" height="1"/><rect x="928" y="83" width="2" height="1"/>
<rect x="16" y="75" width="2" height="1"/><rect x="928" y="75" width="2" height="1"/>
<rect x="16" y="57" width="2" height="1"/><rect x="928" y="57" width="2" height="1"/>
<rect x="16" y="49" width="2" height="1"/><rect x="928" y="49" width="2" height="1"/>
<rect x="16" y="41" width="2" height="1"/><rect x="928" y="41" width="2" height="1"/>
<rect x="16" y="32" width="2" height="1"/><rect x="928" y="32" width="2" height="1"/>
<rect x="16" y="24" width="2" height="1"/><rect x="928" y="24" width="2" height="1"/>
<rect x="16" y="67" width="2" height="1"/><rect x="928" y="67" width="2" height="1"/>
<rect x="16" y="151" width="2" height="1"/><rect x="928" y="151" width="2" height="1"/>
<rect x="16" y="235" width="2" height="1"/><rect x="928" y="235" width="2" height="1"/>
<rect x="16" y="319" width="2" height="1"/><rect x="928" y="319" width="2" height="1"/>
<rect x="16" y="403" width="2" height="1"/><rect x="928" y="403" width="2" height="1"/>
<rect x="16" y="487" width="2" height="1"/><rect x="928" y="487" width="2" height="1"/>
<rect x="26" y="526" width="1" height="1"/>
<rect x="42" y="526" width="1" height="1"/>
<rect x="56" y="526" width="1" height="2"/>
<rect x="72" y="526" width="1" height="1"/>
<rect x="87" y="526" width="1" height="1"/>
<rect x="102" y="526" width="1" height="2"/>
<rect x="117" y="526" width="1" height="1"/>
<rect x="132" y="526" width="1" height="1"/>
<rect x="147" y="526" width="1" height="2"/>
<rect x="162" y="526" width="1" height="1"/>
<rect x="177" y="526" width="1" height="1"/>
<rect x="192" y="526" width="1" height="2"/>
<rect x="208" y="526" width="1" height="1"/>
<rect x="223" y="526" width="1" height="1"/>
<rect x="238" y="526" width="1" height="2"/>
<rect x="253" y="526" width="1" height="1"/>
<rect x="268" y="526" width="1" height="1"/>
<rect x="283" y="526" width="1" height="2"/>
<rect x="299" y="526" width="1" height="1"/>
<rect x="313" y="526" width="1" height="1"/>
<rect x="328" y="526" width="1" height="2"/>
<rect x="343" y="526" width="1" height="1"/>
<rect x="358" y="526" width="1" height="1"/>
<rect x="373" y="526" width="1" height="2"/>
<rect x="389" y="526" width="1" height="1"/>
<rect x="404" y="526" width="1" height="1"/>
<rect x="419" y="526" width="1" height="2"/>
<rect x="434" y="526" width="1" height="1"/>
<rect x="449" y="526" width="1" height="1"/>
<rect x="464" y="526" width="1" height="2"/>
<rect x="480" y="526" width="1" height="1"/>
<rect x="494" y="526" width="1" height="1"/>
<rect x="509" y="526" width="1" height="2"/>
<rect x="524" y="526" width="1" height="1"/>
<rect x="539" y="526" width="1" height="1"/>
<rect x="554" y="526" width="1" height="2"/>
<rect x="570" y="526" width="1" height="1"/>
<rect x="585" y="526" width="1" height="1"/>
<rect x="600" y="526" width="1" height="2"/>
<rect x="615" y="526" width="1" height="1"/>
<rect x="630" y="526" width="1" height="1"/>
<rect x="645" y="526" width="1" height="2"/>
<rect x="661" y="526" width="1" height="1"/>
<rect x="675" y="526" width="1" height="1"/>
<rect x="690" y="526" width="1" height="2"/>
<rect x="705" y="526" width="1" height="1"/>
<rect x="720" y="526" width="1" height="1"/>
<rect x="735" y="526" width="1" height="2"/>
<rect x="750" y="526" width="1" height="1"/>
<rect x="766" y="526" width="1" height="1"/>
<rect x="781" y="526" width="1" height="2"/>
<rect x="796" y="526" width="1" height="1"/>
<rect x="811" y="526" width="1" height="1"/>
<rect x="826" y="526" width="1" height="2"/>
<rect x="842" y="526" width="1" height="1"/>
<rect x="856" y="526" width="1" height="1"/>
<rect x="871" y="526" width="1" height="2"/>
<rect x="885" y="526" width="1" height="1"/>
<rect x="901" y="526" width="1" height="1"/>
<rect x="916" y="526" width="1" height="2"/>
</g>
<text transform="scale(0.9847,1)" x="17.96 29.50 38.39 41.95 47.26 58.80 67.69 76.58 81.89 95.20 97.82 109.71 118.88 124.36 133.52 137.05 142.64 151.98 161.32 170.65 179.99 185.58 188.26 197.52 206.79 216.06" y="14.7" font-size="16px" fill="#000">Uni-Charm Corp (8113) 4545</text>
<text transform="scale(0.9888,1)" x="228.82 238.16 247.07 255.97 260.42 269.33" y="14.7" font-size="16px" fill="#0000cd">+40.00</text>
<text transform="scale(0.9534,1)" x="719.14 730.99 742.83 754.88 759.19 763.51 772.14 775.60 779.05 787.68 792.84 805.76 814.39 823.03 831.66 839.71 844.33 852.64 861.89" y="14.7" font-size="16px" fill="#000">www.fullermoney.com</text>
<text transform="scale(0.9697,1)" x="881.88 890.95 895.60 903.18 911.61 914.99 919.29 928.41 937.54 946.66" y="14.7" font-size="16px" fill="#000">3 Jul 2012</text>
<rect x="21" y="28" width="50" height="15" fill="#fff"/><rect x="21" y="45" width="61.5" height="15" fill="#fff"/>
<text transform="scale(1.0265,1)" x="20.86 34.06 41.84 49.62 56.62 59.73" y="39.7" font-size="14px" fill="#0000cd">Weekly</text>
<text transform="scale(0.9987,1)" x="21.86 31.13 42.71 51.98 55.09 63.20 71.30" y="57.1" font-size="14px" fill="#a01414">EMA 200</text>
<g font-size="14px">
<text x="56.5" y="539.9" text-anchor="middle" fill="#000">Oct</text>
<text x="103.9" y="539.9" text-anchor="middle" fill="#000">2008</text>
<text x="147.5" y="539.9" text-anchor="middle" fill="#000">Apr</text>
<text x="191.7" y="539.9" text-anchor="middle" fill="#000">Jul</text>
<text x="238.5" y="539.9" text-anchor="middle" fill="#000">Oct</text>
<text x="284.9" y="539.9" text-anchor="middle" fill="#000">2009</text>
<text x="328.5" y="539.9" text-anchor="middle" fill="#000">Apr</text>
<text x="372.7" y="539.9" text-anchor="middle" fill="#000">Jul</text>
<text x="419.5" y="539.9" text-anchor="middle" fill="#000">Oct</text>
<text x="465.9" y="539.9" text-anchor="middle" fill="#000">2010</text>
<text x="509.5" y="539.9" text-anchor="middle" fill="#000">Apr</text>
<text x="553.7" y="539.9" text-anchor="middle" fill="#000">Jul</text>
<text x="600.5" y="539.9" text-anchor="middle" fill="#000">Oct</text>
<text x="646.9" y="539.9" text-anchor="middle" fill="#000">2011</text>
<text x="690.5" y="539.9" text-anchor="middle" fill="#000">Apr</text>
<text x="734.7" y="539.9" text-anchor="middle" fill="#000">Jul</text>
<text x="781.5" y="539.9" text-anchor="middle" fill="#000">Oct</text>
<text x="827.9" y="539.9" text-anchor="middle" fill="#000">2012</text>
<text x="871.5" y="539.9" text-anchor="middle" fill="#000">Apr</text>
<text x="915.7" y="539.9" text-anchor="middle" fill="#000">Jul</text>
<text x="930.6" y="72.7" font-size="14px" fill="#000" textLength="31.8" lengthAdjust="spacingAndGlyphs">4500</text>
<text x="930.6" y="156.7" font-size="14px" fill="#000" textLength="31.8" lengthAdjust="spacingAndGlyphs">4000</text>
<text x="930.6" y="240.7" font-size="14px" fill="#000" textLength="31.8" lengthAdjust="spacingAndGlyphs">3500</text>
<text x="930.6" y="324.7" font-size="14px" fill="#000" textLength="31.8" lengthAdjust="spacingAndGlyphs">3000</text>
<text x="930.6" y="408.7" font-size="14px" fill="#000" textLength="31.8" lengthAdjust="spacingAndGlyphs">2500</text>
<text x="930.6" y="492.7" font-size="14px" fill="#000" textLength="31.8" lengthAdjust="spacingAndGlyphs">2000</text>
</g>
<text x="790.8" y="555" font-size="10px" fill="#9c9c9c" style="stroke:none" textLength="135.6" lengthAdjust="spacingAndGlyphs">© 2012 Stockcube Research Ltd</text>
</svg></body></html>
